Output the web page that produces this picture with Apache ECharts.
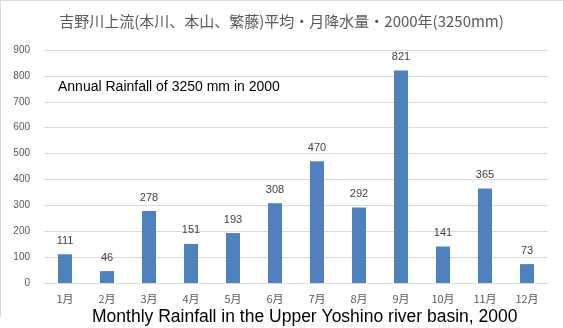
<!DOCTYPE html>
<html>
<head>
<meta charset="utf-8">
<script src="https://cdn.jsdelivr.net/npm/echarts@6/dist/echarts.min.js"></script>
<style>
  html, body { margin: 0; padding: 0; background: #fff; }
  #chart { width: 563px; height: 328px; }
</style>
</head>
<body>
<div id="chart"></div>
<script>
// Monthly rainfall (mm), upper Yoshino river basin, 2000
const months = ['1月', '2月', '3月', '4月', '5月', '6月', '7月', '8月', '9月', '10月', '11月', '12月'];
const rainfall = [111, 46, 278, 151, 193, 308, 470, 292, 821, 141, 365, 73];
const titleText = '吉野川上流(本川、本山、繁藤)平均・月降水量・2000年(3250mm)';
const noteText = 'Annual Rainfall of 3250 mm in 2000';
const xAxisTitle = 'Monthly Rainfall in the Upper Yoshino river basin, 2000';

const chart = echarts.init(document.getElementById('chart'), null, { renderer: 'canvas' });

chart.setOption({
  animation: false,
  backgroundColor: '#ffffff',
  title: {
    text: titleText,
    left: 'center',
    top: 9,
    textStyle: {
      fontFamily: '"Noto Sans CJK JP", sans-serif',
      fontSize: 15,
      fontWeight: 'normal',
      color: '#595959'
    }
  },
  grid: { left: 44, right: 15, top: 50, bottom: 45, containLabel: false },
  xAxis: {
    type: 'category',
    data: months,
    axisLine: { lineStyle: { color: '#d9d9d9', width: 1 } },
    axisTick: { show: false },
    axisLabel: {
      color: '#595959',
      fontSize: 11,
      margin: 10,
      fontFamily: '"Noto Sans CJK JP", sans-serif'
    }
  },
  yAxis: {
    type: 'value',
    min: 0,
    max: 900,
    interval: 100,
    axisLine: { show: false },
    axisTick: { show: false },
    axisLabel: {
      color: '#595959',
      fontSize: 10,
      margin: 14,
      fontFamily: 'Liberation Sans, sans-serif'
    },
    splitLine: { lineStyle: { color: '#d9d9d9', width: 1 } }
  },
  series: [{
    type: 'bar',
    data: rainfall,
    barWidth: 14,
    itemStyle: { color: '#4f81bd' },
    label: {
      show: true,
      position: 'top',
      distance: 8,
      color: '#404040',
      fontSize: 11,
      fontFamily: 'Liberation Sans, sans-serif'
    }
  }],
  graphic: [
    // chart-area frame (top and left edges)
    { type: 'line', shape: { x1: 0, y1: 0.5, x2: 563, y2: 0.5 }, style: { stroke: '#d9d9d9', lineWidth: 1 } },
    { type: 'line', shape: { x1: 0.5, y1: 0, x2: 0.5, y2: 317 }, style: { stroke: '#d9d9d9', lineWidth: 1 } },
    {
      type: 'text',
      left: 58,
      top: 80,
      style: {
        text: noteText,
        fill: '#000000',
        fontSize: 14,
        fontFamily: 'Liberation Sans, sans-serif',
        backgroundColor: '#ffffff'
      }
    },
    {
      type: 'text',
      left: 92,
      top: 308,
      style: {
        text: xAxisTitle,
        fill: '#000000',
        fontSize: 17.5,
        fontFamily: 'Liberation Sans, sans-serif'
      }
    }
  ]
});
</script>
</body>
</html>
